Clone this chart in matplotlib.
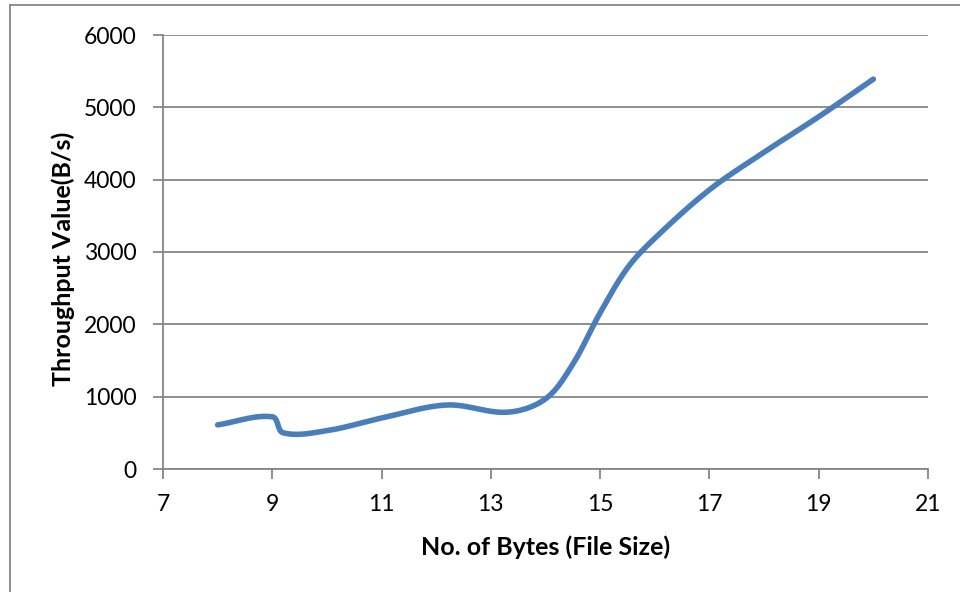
import numpy as np
import matplotlib
matplotlib.use("Agg")
import matplotlib.pyplot as plt
from matplotlib.lines import Line2D

plt.rcParams['font.family'] = ['Lato', 'DejaVu Sans']

# Measured throughput versus file size
file_size = [8, 9, 9.2, 10, 11, 12.2, 13.3, 14, 14.5, 15, 15.5, 16, 17, 18, 19, 20]
throughput = [610, 722, 500, 530, 705, 885, 785, 970, 1450, 2160, 2780, 3190, 3860, 4380, 4870, 5390]

x_ticks = [7, 9, 11, 13, 15, 17, 19, 21]
y_ticks = [0, 1000, 2000, 3000, 4000, 5000, 6000]

XLIM = (7, 21)
YLIM = (0, 6000)
AX_RECT = [163 / 960, 1 - 469 / 592, (928 - 163) / 960, (469 - 35) / 592]


def smooth_curve(xs, ys, n=80):
    """Bezier smoothing through every point; tangents follow the neighbouring
    points and handle lengths follow each segment, computed in screen units."""
    w_px = AX_RECT[2] * 960
    h_px = AX_RECT[3] * 592
    kx = w_px / (XLIM[1] - XLIM[0])
    ky = h_px / (YLIM[1] - YLIM[0])
    p = np.column_stack([np.asarray(xs, float) * kx, np.asarray(ys, float) * ky])
    m = len(p)
    tang = np.zeros_like(p)
    for i in range(m):
        a = p[max(i - 1, 0)]
        b = p[min(i + 1, m - 1)]
        d = b - a
        tang[i] = d / np.hypot(*d)
    t = np.linspace(0, 1, n)[:, None]
    out = []
    for i in range(m - 1):
        p1, p2 = p[i], p[i + 1]
        L = np.hypot(*(p2 - p1))
        c1 = p1 + tang[i] * L / 3.0
        c2 = p2 - tang[i + 1] * L / 3.0
        seg = ((1 - t) ** 3) * p1 + 3 * ((1 - t) ** 2) * t * c1 \
            + 3 * (1 - t) * t ** 2 * c2 + t ** 3 * p2
        out.append(seg if i == 0 else seg[1:])
    c = np.vstack(out)
    return c[:, 0] / kx, c[:, 1] / ky


fig = plt.figure(figsize=(9.6, 5.92), dpi=100)
ax = fig.add_axes(AX_RECT)

sx, sy = smooth_curve(file_size, throughput)
ax.plot(sx, sy, color='#4a7ebb', lw=4, solid_capstyle='round', zorder=3)

ax.set_xlim(*XLIM)
ax.set_ylim(*YLIM)
ax.set_xticks(x_ticks)
ax.set_yticks(y_ticks)
ax.yaxis.grid(True, color='#868686', lw=1.3)
ax.set_axisbelow(True)
for s in ['top', 'right']:
    ax.spines[s].set_visible(False)
for s in ['left', 'bottom']:
    ax.spines[s].set_color('#868686')
    ax.spines[s].set_linewidth(1.3)
ax.tick_params(axis='both', direction='out', length=7, width=1.3, color='#868686',
               labelsize=16.5, labelcolor='black')
ax.tick_params(axis='y', pad=12)
ax.tick_params(axis='x', pad=11)

ax.set_xlabel('No. of Bytes (File Size)', fontsize=18, fontweight='bold', va='center')
ax.set_ylabel('Throughput Value(B/s)', fontsize=18, fontweight='bold', va='center')
ax.xaxis.set_label_coords(0.5, -0.18)
ax.yaxis.set_label_coords(-0.131, 0.484)

# Chart frame (top and left edges)
fig.add_artist(Line2D([10 / 960, 10 / 960], [0, 1 - 5 / 592], transform=fig.transFigure,
                      color='#868686', lw=1.3))
fig.add_artist(Line2D([10 / 960, 1], [1 - 5 / 592, 1 - 5 / 592], transform=fig.transFigure,
                      color='#868686', lw=1.3))

fig.savefig('out.png', dpi=100)
